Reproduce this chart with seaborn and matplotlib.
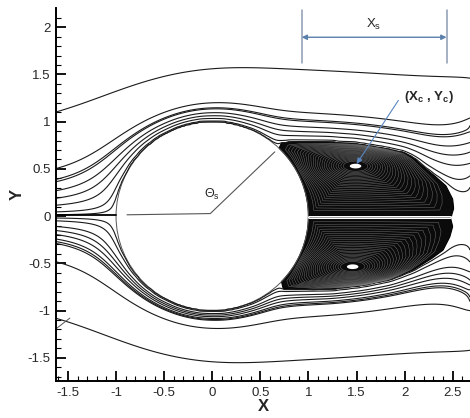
import numpy as np
import pandas as pd
import matplotlib
matplotlib.use("Agg")
import matplotlib.pyplot as plt
from matplotlib.path import Path
from matplotlib.collections import LineCollection
from matplotlib.patches import Polygon
import seaborn as sns

# ---------------- data ----------------
x_left, x_right = -1.62, 2.68          # plot edges where streamlines enter / leave
upper_start_y = [0.015, 0.045, 0.116, 0.19, 0.27, 0.365, 0.39, 0.505, 1.104]
upper_end_y = [0.31, 0.43, 0.56, 0.68, 0.78, 0.89, 0.96, 1.04, 1.46]
lower_start_y = [-0.02, -0.05, -0.11, -0.153, -0.196, -0.243, -0.27, -0.29, -0.484, -1.083]
lower_end_y = [-0.36, -0.49, -0.59, -0.68, -0.73, -0.78, -0.86, -0.91, -1.0, -1.42]

# recirculation bubble outlines (separation point -> top -> rear tip)
upper_bubble_x = [0.695, 0.72, 0.90, 1.20, 1.50, 1.80, 2.00, 2.10, 2.20, 2.32, 2.43, 2.50, 2.51, 2.49]
upper_bubble_y = [0.719, 0.775, 0.79, 0.785, 0.765, 0.715, 0.67, 0.61, 0.52, 0.42, 0.32, 0.18, 0.08, 0.012]
lower_bubble_x = [0.72, 0.737, 1.05, 1.30, 1.57, 1.85, 2.09, 2.28, 2.40, 2.47, 2.50, 2.48]
lower_bubble_y = [-0.694, -0.765, -0.78, -0.765, -0.73, -0.67, -0.57, -0.45, -0.36, -0.22, -0.11, -0.03]
upper_center = (1.49, 0.53)           # (Xc, Yc)
lower_center = (1.46, -0.536)
cyl_radius = 1.0
xs_start, xs_end = 0.93, 2.436       # Xs bracket
theta_line_x = [-0.886, -0.02, 0.65]
theta_line_y = [0.014, 0.027, 0.68]
stray_x = [-1.62, -1.48]
stray_y = [-1.19, -1.08]
x_ticks = [-1.5, -1, -0.5, 0, 0.5, 1, 1.5, 2, 2.5]
x_tick_labels = ["-1.5", "-1", "-0.5", "0", "0.5", "1", "1.5", "2", "2.5"]
y_ticks = [-1.5, -1, -0.5, 0, 0.5, 1, 1.5, 2]
y_tick_labels = ["-1.5", "-1", "-0.5", "0", "0.5", "1", "1.5", "2"]
n_loops = 24

# ---------------- style ----------------
sns.set_style("ticks")
plt.rcParams["font.family"] = ["Liberation Sans", "DejaVu Sans"]
plt.rcParams["mathtext.fontset"] = "custom"
plt.rcParams["mathtext.rm"] = "Liberation Sans"
plt.rcParams["mathtext.it"] = "Liberation Sans"
plt.rcParams["contour.negative_linestyle"] = "solid"

fig = plt.figure(figsize=(4.7, 4.18), dpi=100)
ax = fig.add_axes([0.120, 0.0885, 0.880, 0.8915])
xlim = (x_left, x_right)
ylim = (-1.746, 2.2)


def closed_outline(bx, by):
    """bubble outline closed along the axis and the cylinder wall (upper-half coords)"""
    bx = np.asarray(bx, float)
    by = np.abs(np.asarray(by, float))
    ang_sep = np.arctan2(by[0], bx[0])
    ang = np.linspace(0.0, ang_sep, 30)
    px = np.concatenate([bx, [bx[-1], cyl_radius], cyl_radius * np.cos(ang)])
    py = np.concatenate([by, [0.0, 0.0], cyl_radius * np.sin(ang)])
    return px, py


def pot_psi(x, y):
    return y * (1 - cyl_radius ** 2 / (x ** 2 + y ** 2))


def solve_half(bx, by, start_y, end_y):
    """Laplace solve for psi in the upper half of the plotted window"""
    h = 0.015
    xg = np.linspace(x_left, x_right, int(round((x_right - x_left) / h)) + 1)
    yg = np.linspace(0.0, 3.0, 201)
    hy = yg[1] - yg[0]
    X, Y = np.meshgrid(xg, yg)
    R2 = X ** 2 + Y ** 2
    levels = [float(pot_psi(x_left, abs(y))) for y in start_y]
    ends = [abs(y) for y in end_y]
    right = np.interp(yg, [0.0] + ends, [0.0] + levels)
    above = yg > ends[-1]
    right[above] = levels[-1] + (yg[above] - ends[-1])
    f = np.linspace(0, 1, len(xg))[None, :]
    P = f * right[:, None] + (1 - f) * pot_psi(x_left, yg)[:, None]
    ox, oy = closed_outline(bx, by)
    poly = Path(np.column_stack([ox, oy]))
    body = (R2 < cyl_radius ** 2) | poly.contains_points(
        np.column_stack([X.ravel(), Y.ravel()])).reshape(X.shape)
    P[body] = 0.0
    P[0, :] = 0.0
    P[:, 0] = pot_psi(x_left, yg)
    P[:, -1] = right
    fixed = body.copy()
    fixed[0, :] = fixed[-1, :] = True
    fixed[:, 0] = fixed[:, -1] = True
    J, I = np.indices(P.shape)
    w = 1.93
    red = (((I + J) % 2 == 0) & ~fixed)[1:-1, 1:-1].astype(float) * w
    blk = (((I + J) % 2 == 1) & ~fixed)[1:-1, 1:-1].astype(float) * w
    for _ in range(1800):
        for m in (red, blk):
            A = 0.25 * (P[:-2, 1:-1] + P[2:, 1:-1] + P[1:-1, :-2] + P[1:-1, 2:])
            P[1:-1, 1:-1] += m * (A - P[1:-1, 1:-1])
        P[-1, 1:-1] = P[-2, 1:-1] + hy
    return xg, yg, P, sorted(levels)


line_col = "#1a1a1a"
xg, yg, PU, up_levels = solve_half(upper_bubble_x, upper_bubble_y, upper_start_y, upper_end_y)
ax.contour(xg, yg, PU, levels=up_levels, colors=line_col, linewidths=0.8)
xg2, yg2, PL, lo_levels = solve_half(lower_bubble_x, lower_bubble_y, lower_start_y, lower_end_y)
ax.contour(xg2, -yg2, PL, levels=lo_levels, colors=line_col, linewidths=0.8)


# recirculation bubbles: closed streamlines nested round the vortex centre
def polar_outline(ox, oy, c, phi):
    t = np.linspace(0, 1, 4000)
    cum = np.concatenate([[0], np.cumsum(np.hypot(np.diff(ox), np.diff(oy)))])
    cum /= cum[-1]
    dx = np.interp(t, cum, ox) - c[0]
    dy = np.interp(t, cum, oy) - c[1]
    ang = np.arctan2(dy, dx)
    rad = np.hypot(dx, dy)
    o = np.argsort(ang)
    return np.interp(phi, ang[o], rad[o], period=2 * np.pi)


phi = np.linspace(-np.pi, np.pi, 721)
for bx, by, c, sgn in ((upper_bubble_x, upper_bubble_y, upper_center, 1),
                       (lower_bubble_x, lower_bubble_y, lower_center, -1)):
    ox, oy = closed_outline(bx, by)
    oy = sgn * oy
    ox = np.append(ox, ox[0])
    oy = np.append(oy, oy[0])
    rb = polar_outline(ox, oy, c, phi)
    re = 1.0 / np.sqrt((np.cos(phi) / 0.8) ** 2 + (np.sin(phi) / 0.33) ** 2)

    def loop(s):
        t = s ** 1.6
        r = s * (t * rb + (1 - t) * re)
        return np.column_stack([c[0] + r * np.cos(phi), c[1] + r * np.sin(phi)])

    ax.add_patch(Polygon(loop(1.0), closed=True, fc="#0b0b0b", ec="black", lw=0.8))
    segs = [loop(s) for s in np.linspace(0.16, 0.93, n_loops)]
    ax.add_collection(LineCollection(segs, colors="#8f8f8f", linewidths=0.35, alpha=0.75))
    ax.add_patch(Polygon(loop(0.075), closed=True, fc="white", ec="none"))

# cylinder outline
ax.add_patch(plt.Circle((0, 0), cyl_radius, fill=False, ec="#555555", lw=0.7))

# stagnation streamlines on the axis
axis_df = pd.DataFrame({"x": [xlim[0], -cyl_radius], "y": [0.008, 0.008]})
sns.lineplot(data=axis_df, x="x", y="y", ax=ax, color="black", lw=1.3, sort=False)
axis_df2 = pd.DataFrame({"x": [cyl_radius + 0.01, 2.47], "y": [-0.008, -0.008]})
sns.lineplot(data=axis_df2, x="x", y="y", ax=ax, color="white", lw=2.2, sort=False)
sns.lineplot(data=axis_df2, x="x", y="y", ax=ax, color="#555555", lw=0.4, sort=False)

# theta_s marker
theta_df = pd.DataFrame({"x": theta_line_x, "y": theta_line_y})
sns.lineplot(data=theta_df, x="x", y="y", ax=ax, color="#555555", lw=0.8, sort=False)
ax.text(0.0, 0.225, r"$\Theta_\mathregular{s}$", ha="center", va="center", fontsize=9)

stray_df = pd.DataFrame({"x": stray_x, "y": stray_y})
sns.lineplot(data=stray_df, x="x", y="y", ax=ax, color="#555555", lw=0.7, sort=False)

# Xs bracket
for xv in (xs_start, xs_end):
    ax.plot([xv, xv], [1.62, 2.18], color="#8d9bb3", lw=1.1)
ax.annotate("", xy=(xs_start, 1.894), xytext=(xs_end, 1.894),
            arrowprops=dict(arrowstyle="<|-|>,head_length=0.3,head_width=0.15",
                            color="#5a80ab", lw=1.0, shrinkA=0, shrinkB=0))
ax.text((xs_start + xs_end) / 2, 2.03, r"X$_\mathregular{s}$", ha="center",
        va="center", fontsize=9.5)

# (Xc, Yc) pointer
ax.annotate("", xy=(upper_center[0] + 0.01, upper_center[1] + 0.02), xytext=(1.935, 1.225),
            arrowprops=dict(arrowstyle="-|>,head_length=0.35,head_width=0.15",
                            color="#5b86c0", lw=0.8, shrinkA=0, shrinkB=0))
ax.text(2.25, 1.26, r"(X$_\mathregular{c}$ , Y$_\mathregular{c}$)", ha="center",
        va="center", fontsize=9.5, fontweight="bold")

# ---------------- axes ----------------
ax.set_xlim(*xlim)
ax.set_ylim(*ylim)
ax.set_xticks(x_ticks)
ax.set_xticklabels(x_tick_labels)
ax.set_yticks(y_ticks)
ax.set_yticklabels(y_tick_labels)
ax.set_xticks(np.arange(-1.6, 2.65, 0.1), minor=True)
ax.set_yticks(np.arange(-1.7, 2.15, 0.1), minor=True)
ax.tick_params(which="major", direction="in", length=7, width=1.3, labelsize=9.5, pad=4,
               color="black")
ax.tick_params(which="minor", direction="in", length=3.5, width=0.8, color="black")
for s in ("top", "right"):
    ax.spines[s].set_visible(False)
for s in ("left", "bottom"):
    ax.spines[s].set_linewidth(1.4)
    ax.spines[s].set_color("black")
ax.set_xlabel("X", fontsize=12, fontweight="bold", labelpad=0)
ax.set_ylabel("Y", fontsize=12, fontweight="bold", labelpad=2)

fig.savefig("out.png", dpi=100)
